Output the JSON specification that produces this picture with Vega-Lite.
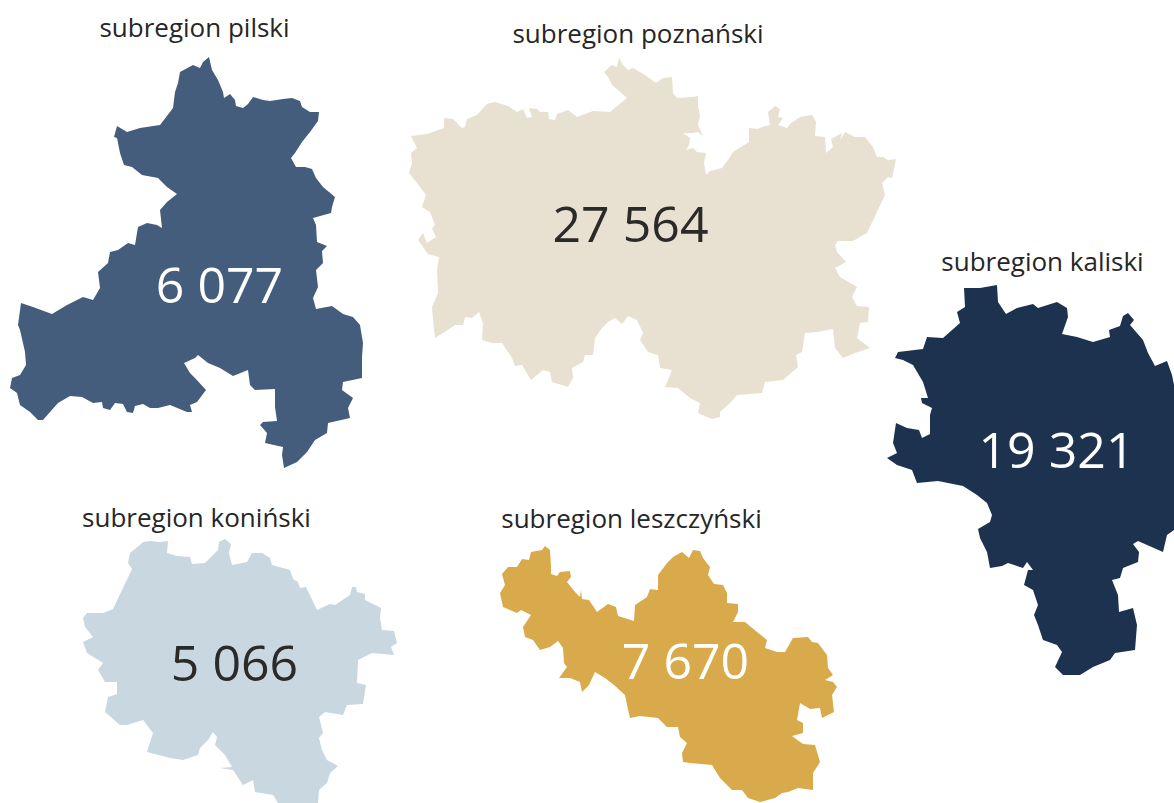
{"$schema":"https://vega.github.io/schema/vega-lite/v6.json","width":1174,"height":803,"padding":0,"autosize":"none","background":"white","view":{"stroke":null},"config":{"font":"Open Sans"},"projection":{"type":"identity","scale":1,"translate":[0,0]},"resolve":{"scale":{"color":"independent"}},"layer":[{"data":{"values":[
{"type":"Feature","properties":{"name":"subregion pilski"},"geometry":{"type":"Polygon","coordinates":[[[209,57],[212,70],[218,80],[223,92],[224,98],[230,94],[235,100],[236,106],[243,108],[248,104],[253,97],[263,100],[270,101],[283,99],[292,98],[300,101],[302,107],[310,112],[319,112],[318,121],[310,132],[302,142],[295,153],[291,158],[296,167],[305,167],[312,169],[316,178],[323,187],[335,197],[332,207],[331,213],[313,218],[316,225],[317,242],[327,246],[322,251],[323,263],[316,270],[318,287],[313,298],[316,309],[332,306],[343,314],[353,317],[360,325],[363,343],[362,357],[362,378],[343,382],[342,390],[353,398],[348,408],[350,418],[328,423],[327,433],[315,440],[307,452],[297,462],[284,468],[282,455],[283,447],[265,443],[267,433],[260,425],[263,422],[277,421],[275,407],[275,389],[255,390],[250,385],[248,370],[233,376],[220,368],[208,363],[198,355],[195,358],[184,363],[190,373],[195,378],[206,390],[197,402],[190,405],[192,412],[187,412],[170,405],[158,408],[150,408],[143,404],[135,406],[133,413],[127,412],[123,404],[115,403],[110,410],[103,408],[102,402],[93,403],[82,397],[70,396],[58,403],[50,412],[43,420],[38,420],[30,412],[20,405],[17,393],[10,388],[12,378],[20,375],[26,365],[25,352],[20,330],[18,325],[21,303],[33,307],[52,314],[67,305],[83,297],[93,300],[100,288],[98,272],[108,263],[110,252],[118,250],[128,243],[135,245],[138,227],[147,223],[157,225],[162,228],[160,210],[167,202],[177,194],[167,187],[158,178],[142,175],[132,167],[124,165],[120,153],[117,138],[114,137],[117,126],[127,132],[140,128],[160,125],[170,112],[173,108],[175,92],[178,83],[180,72],[193,65],[200,68],[203,62],[209,57]]]}},
{"type":"Feature","properties":{"name":"subregion poznański"},"geometry":{"type":"Polygon","coordinates":[[[619,58],[623,65],[628,70],[633,68],[645,75],[656,83],[663,78],[672,77],[673,93],[677,98],[693,97],[698,96],[698,107],[700,115],[698,125],[703,136],[698,132],[692,133],[683,133],[690,138],[689,145],[686,150],[693,148],[697,152],[706,153],[704,163],[706,175],[710,171],[722,168],[728,160],[733,152],[749,142],[749,128],[758,129],[762,127],[770,125],[768,112],[775,106],[780,109],[778,117],[783,118],[778,125],[787,128],[790,124],[800,117],[812,115],[816,122],[815,136],[825,137],[826,153],[833,147],[831,139],[842,133],[840,140],[845,132],[855,137],[865,137],[873,147],[877,157],[883,157],[888,160],[896,159],[892,178],[888,177],[882,183],[885,195],[867,233],[853,241],[838,241],[835,245],[837,252],[846,262],[835,268],[840,277],[857,287],[852,297],[857,306],[869,307],[868,322],[860,323],[857,338],[870,348],[855,353],[843,358],[835,348],[833,329],[817,332],[805,333],[802,352],[796,355],[798,367],[783,380],[765,382],[762,393],[737,395],[730,403],[720,412],[720,417],[712,419],[698,413],[700,403],[690,398],[678,388],[665,387],[672,370],[660,368],[658,355],[648,352],[640,340],[643,333],[637,320],[628,316],[622,324],[615,318],[608,322],[602,328],[595,338],[593,355],[585,355],[583,362],[572,368],[573,378],[568,387],[552,382],[550,372],[543,370],[531,380],[522,365],[515,366],[512,358],[502,343],[492,343],[482,340],[483,323],[479,312],[472,318],[465,317],[463,325],[455,325],[443,333],[435,338],[433,320],[432,307],[438,293],[437,270],[439,257],[428,254],[418,240],[423,233],[427,243],[436,237],[432,228],[435,225],[430,212],[422,207],[426,195],[417,183],[409,173],[412,163],[411,153],[417,148],[411,136],[427,134],[444,128],[444,118],[453,119],[462,128],[465,127],[467,119],[477,115],[487,104],[495,102],[508,106],[517,112],[523,109],[527,118],[532,117],[529,108],[537,109],[540,112],[548,112],[549,119],[555,120],[557,114],[568,110],[577,117],[593,111],[610,112],[627,98],[618,90],[612,85],[608,77],[604,72],[612,65],[617,67],[619,58]]]}},
{"type":"Feature","properties":{"name":"subregion kaliski"},"geometry":{"type":"Polygon","coordinates":[[[997,285],[998,302],[1006,314],[1017,308],[1033,304],[1038,308],[1057,302],[1067,308],[1068,317],[1062,334],[1077,337],[1093,342],[1110,337],[1109,330],[1120,326],[1123,316],[1128,313],[1134,320],[1130,325],[1143,340],[1148,353],[1155,366],[1167,361],[1172,375],[1174,385],[1174,530],[1167,535],[1163,552],[1138,541],[1133,544],[1139,552],[1138,562],[1123,568],[1120,578],[1112,580],[1118,595],[1119,612],[1133,608],[1137,625],[1135,650],[1115,653],[1110,660],[1093,667],[1080,675],[1063,675],[1055,667],[1062,652],[1057,645],[1043,640],[1038,625],[1034,615],[1038,605],[1033,590],[1024,585],[1028,570],[1033,570],[1027,562],[1023,568],[1008,563],[1002,566],[990,568],[987,552],[980,538],[978,529],[990,522],[992,515],[987,503],[977,495],[963,486],[938,481],[917,483],[912,470],[897,465],[887,458],[897,453],[893,443],[896,423],[907,428],[919,430],[922,438],[930,434],[930,415],[932,408],[922,403],[921,398],[928,398],[923,382],[913,365],[903,360],[895,358],[898,352],[923,349],[927,337],[943,338],[960,323],[957,312],[965,307],[964,288],[980,288],[997,285]]]}},
{"type":"Feature","properties":{"name":"subregion koniński"},"geometry":{"type":"Polygon","coordinates":[[[143,542],[150,541],[160,542],[168,541],[167,553],[177,556],[190,557],[192,564],[205,563],[218,550],[219,542],[225,539],[231,544],[229,553],[232,565],[247,562],[252,553],[262,553],[270,558],[272,565],[290,570],[293,579],[298,582],[300,588],[306,587],[317,610],[330,604],[335,605],[350,595],[352,587],[356,587],[357,592],[365,594],[365,600],[381,608],[380,618],[382,630],[394,631],[397,643],[391,647],[394,655],[372,653],[358,660],[357,683],[366,685],[363,704],[347,705],[343,715],[325,712],[319,717],[323,733],[319,738],[322,750],[327,760],[338,766],[330,773],[327,783],[319,790],[318,803],[278,803],[273,795],[255,792],[253,780],[243,785],[233,770],[220,768],[232,767],[225,755],[215,745],[217,737],[213,732],[208,740],[200,748],[198,755],[183,760],[170,758],[147,752],[153,733],[143,720],[127,725],[120,725],[105,712],[108,697],[117,694],[117,682],[105,682],[98,670],[103,663],[87,653],[83,642],[93,637],[85,627],[83,618],[87,613],[103,613],[113,609],[132,569],[128,563],[130,553],[140,545],[143,542]]]}},
{"type":"Feature","properties":{"name":"subregion leszczyński"},"geometry":{"type":"Polygon","coordinates":[[[545,546],[550,550],[551,567],[551,574],[557,576],[560,572],[570,571],[571,577],[567,582],[575,592],[580,597],[581,590],[582,599],[589,600],[597,612],[608,604],[616,607],[618,616],[634,621],[635,605],[647,597],[650,589],[658,590],[658,575],[667,563],[673,557],[682,552],[689,558],[693,550],[700,551],[703,558],[710,567],[708,575],[714,584],[723,585],[727,593],[727,603],[738,604],[738,612],[733,622],[745,622],[757,632],[767,640],[765,648],[777,652],[785,652],[793,638],[808,637],[812,642],[818,643],[827,655],[828,668],[833,675],[825,680],[833,682],[837,687],[832,695],[834,712],[822,718],[820,708],[810,709],[800,703],[797,720],[803,723],[803,733],[792,736],[803,744],[815,745],[820,762],[813,773],[813,790],[798,788],[788,792],[782,793],[775,798],[760,802],[748,798],[742,790],[732,790],[720,778],[712,765],[690,763],[683,762],[682,753],[687,743],[680,737],[678,727],[667,727],[658,718],[640,716],[630,718],[627,705],[625,695],[614,685],[605,678],[595,672],[589,685],[582,692],[580,682],[570,678],[559,678],[567,667],[564,663],[563,648],[558,641],[550,647],[540,650],[533,640],[525,637],[523,627],[531,615],[521,610],[517,613],[503,607],[500,593],[505,585],[502,574],[508,567],[517,567],[522,559],[529,560],[531,552],[542,550],[545,546]]]}}
]},"mark":{"type":"geoshape","stroke":null,"strokeWidth":0},"encoding":{"color":{"field":"properties.name","type":"nominal","legend":null,"scale":{"domain":["subregion pilski","subregion poznański","subregion kaliski","subregion koniński","subregion leszczyński"],"range":["#445D7C","#E8E0D1","#1D324F","#C9D7E0","#D8AA4B"]}}}},
{"data":{"values":[
{"name":"subregion pilski","lon":194.5,"lat":28.5},
{"name":"subregion poznański","lon":638,"lat":34.5},
{"name":"subregion kaliski","lon":1042.5,"lat":262.5},
{"name":"subregion koniński","lon":196.5,"lat":518.5},
{"name":"subregion leszczyński","lon":631.5,"lat":519.5}
]},"mark":{"type":"text","font":"Open Sans","fontSize":26,"color":"#262626","align":"center","baseline":"middle"},"encoding":{"longitude":{"field":"lon","type":"quantitative"},"latitude":{"field":"lat","type":"quantitative"},"text":{"field":"name","type":"nominal"}}},
{"data":{"values":[
{"name":"subregion pilski","label":"6 077","lon":219.5,"lat":288},
{"name":"subregion poznański","label":"27 564","lon":630.5,"lat":227},
{"name":"subregion kaliski","label":"19 321","lon":1056.5,"lat":453},
{"name":"subregion koniński","label":"5 066","lon":234.5,"lat":666},
{"name":"subregion leszczyński","label":"7 670","lon":685.5,"lat":664}
]},"mark":{"type":"text","font":"Open Sans","fontSize":50,"align":"center","baseline":"middle"},"encoding":{"longitude":{"field":"lon","type":"quantitative"},"latitude":{"field":"lat","type":"quantitative"},"text":{"field":"label","type":"nominal"},"color":{"field":"name","type":"nominal","legend":null,"scale":{"domain":["subregion pilski","subregion poznański","subregion kaliski","subregion koniński","subregion leszczyński"],"range":["#FFFFFF","#2B2A29","#FFFFFF","#2B2A29","#FFFFFF"]}}}}
]}
